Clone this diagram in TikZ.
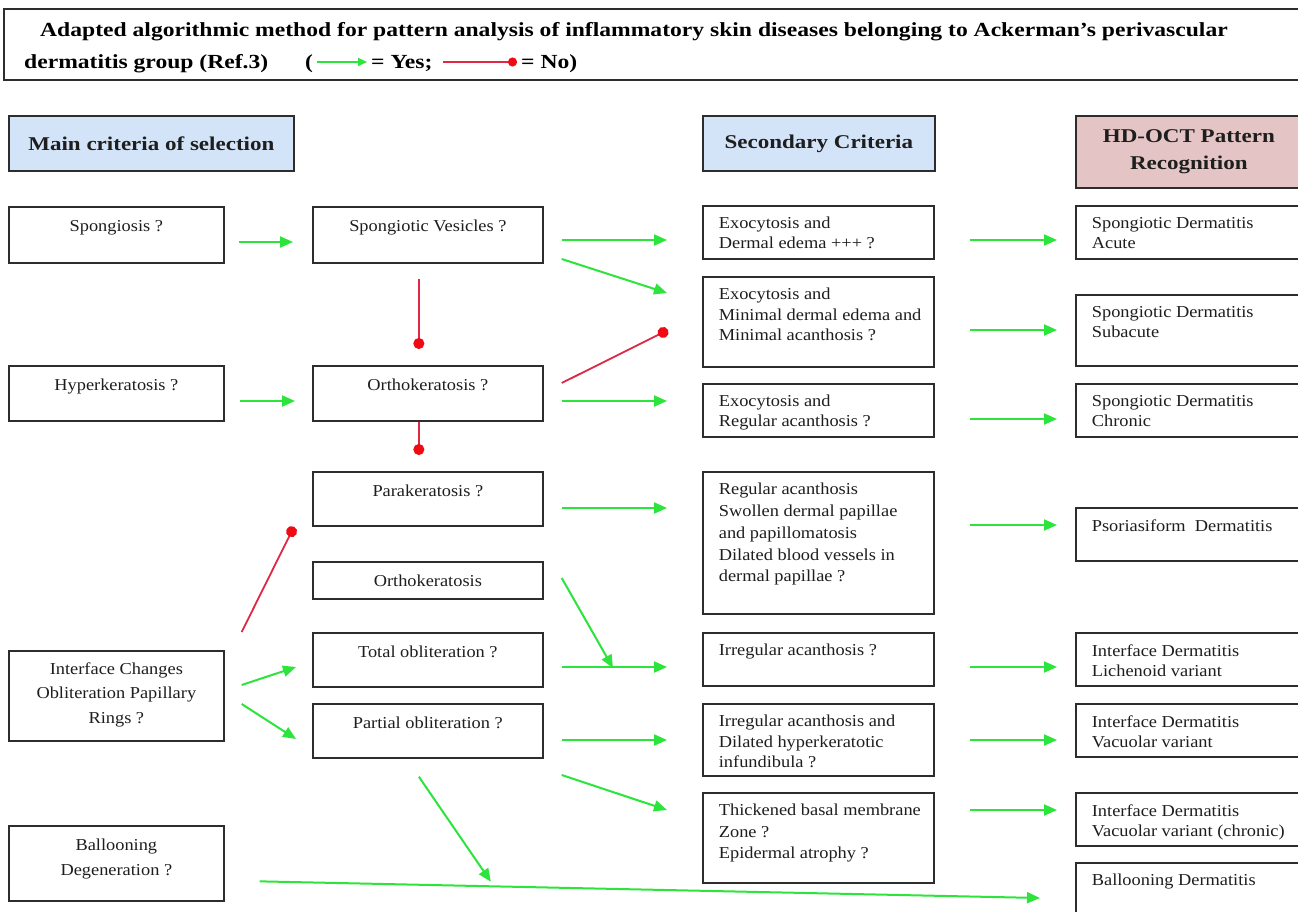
\documentclass[tikz,border=0pt]{standalone}
\usepackage{fontspec}
\setmainfont{Liberation Serif}[FakeStretch=1.18]
\newfontfamily\bxfont{Liberation Serif}[FakeStretch=1.1]
\usetikzlibrary{arrows.meta,calc}
\definecolor{yesg}{RGB}{45,228,60}
\definecolor{nor}{RGB}{222,40,70}
\definecolor{dotr}{RGB}{240,10,20}
\definecolor{hblue}{RGB}{212,228,248}
\definecolor{hpink}{RGB}{228,196,196}
\definecolor{bord}{RGB}{45,45,45}
\definecolor{txt}{RGB}{30,30,30}
\newcommand{\bxc}[7][20]{\node[bxs] (#2) at (#3,#4) {\parbox[t][#6pt][t]{#5pt}{\bxfont\fontsize{16.7}{#1}\selectfont\vspace*{13.5pt}\centering #7\par}};}
\newcommand{\bxl}[7][20]{\node[bxs] (#2) at (#3,#4) {\parbox[t][#6pt][t]{#5pt}{\bxfont\fontsize{16.7}{#1}\selectfont\vspace*{11.5pt}\raggedright\leftskip=16pt #7\par}};}
\begin{document}
\begin{tikzpicture}[x=1pt,y=-1pt,
  bxs/.style={draw=bord,line width=1.7pt,fill=white,inner sep=0pt,anchor=north west,text=txt},
  hdr/.style={draw=bord,line width=1.7pt,anchor=north west,inner sep=0pt,align=center,font=\fontsize{19.5}{27}\selectfont\bfseries,text=txt},
  yes/.style={draw=yesg,line width=2pt,-{Triangle[length=13pt,width=11pt]}},
  no/.style={draw=nor,line width=1.8pt,-{Circle[length=11pt,color=dotr,fill=dotr]}},
  ttl/.style={anchor=base west,inner sep=0pt,font=\fontsize{20}{26}\selectfont\bfseries,text=black}]
\clip (0,0) rectangle (1298,912);
\fill[white] (0,0) rectangle (1298,912);
% title
\draw[bord,line width=2pt] (4,9) rectangle (1320,80);
\node[ttl] (t1) at (40,37) {Adapted algorithmic method for pattern analysis of inflammatory skin diseases belonging to Ackerman’s perivascular};
\node[ttl] (t2) at (24,69) {dermatitis group (Ref.3)};
\node[ttl] (t3) at (305,69) {(};
\node[ttl] (t4) at (371,69) {= Yes;};
\node[ttl] (t5) at (521,69) {= No)};
\draw[yes,-{Triangle[length=9pt,width=8pt]}] ($(t3.base east)+(4,-7)$) -- ($(t4.base west)+(-4,-7)$);
\draw[no,-{Circle[length=9pt,color=dotr,fill=dotr]}] ($(t4.base east)+(10,-7)$) -- ($(t5.base west)+(-4,-7)$);
% headers
\node[hdr,fill=hblue,minimum width=285pt,minimum height=55pt] (h1) at (8,115) {Main criteria of selection};
\node[hdr,fill=hblue,minimum width=232pt,minimum height=55pt] (h2) at (702,115) {Secondary Criteria};
\node[hdr,fill=hpink,minimum width=226pt,minimum height=72pt] (h3) at (1075,115) {HD-OCT Pattern\\Recognition};
% column 1
\bxc{sp}{8}{206}{215}{56}{Spongiosis ?}
\bxc{hk}{8}{365}{215}{55}{Hyperkeratosis ?}
\bxc[24.5]{ic}{8}{650}{215}{90}{\vspace*{-2pt}Interface Changes\\Obliteration Papillary\\Rings ?}
\bxc[25]{bd}{8}{825}{215}{75}{Ballooning\\Degeneration ?}
% column 2
\bxc{sv}{312}{206}{230}{56}{Spongiotic Vesicles ?}
\bxc{ok}{312}{365}{230}{55}{Orthokeratosis ?}
\bxc{pk}{312}{471}{230}{54}{Parakeratosis ?}
\bxc{okb}{312}{561}{230}{37}{Orthokeratosis}
\bxc{to}{312}{632}{230}{54}{Total obliteration ?}
\bxc{po}{312}{703}{230}{54}{Partial obliteration ?}
% column 3
\bxl{ea}{702}{205}{231}{53}{Exocytosis and\\Dermal edema +++ ?}
\bxl[20.5]{eb}{702}{276}{231}{90}{Exocytosis and\\Minimal dermal edema and\\Minimal acanthosis ?}
\bxl{ec}{702}{383}{231}{53}{Exocytosis and\\Regular acanthosis ?}
\bxl[21.7]{ra}{702}{471}{231}{142}{Regular acanthosis\\Swollen dermal papillae\\and papillomatosis\\Dilated blood vessels in\\dermal papillae ?}
\bxl{ia}{702}{632}{231}{53}{Irregular acanthosis ?}
\bxl[20.5]{ib}{702}{703}{231}{72}{Irregular acanthosis and\\Dilated hyperkeratotic\\infundibula ?}
\bxl[21.5]{tb}{702}{792}{231}{90}{Thickened basal membrane\\Zone ?\\Epidermal atrophy ?}
% column 4
\bxl{ra1}{1075}{205}{240}{53}{Spongiotic Dermatitis\\Acute}
\bxl{ra2}{1075}{294}{240}{71}{Spongiotic Dermatitis\\Subacute}
\bxl{ra3}{1075}{383}{240}{53}{Spongiotic Dermatitis\\Chronic}
\bxl{ra4}{1075}{507}{240}{53}{Psoriasiform\ \ Dermatitis}
\bxl{ra5}{1075}{632}{240}{53}{Interface Dermatitis\\Lichenoid variant}
\bxl{ra6}{1075}{703}{240}{53}{Interface Dermatitis\\Vacuolar variant}
\bxl{ra7}{1075}{792}{240}{53}{Interface Dermatitis\\Vacuolar variant (chronic)}
\bxl{ra8}{1075}{862}{240}{60}{Ballooning Dermatitis}
% yes connectors
\draw[yes] ($(sp.north east)+(14,36)$) -- ($(sv.north west)+(-19,36)$);
\draw[yes] ($(sv.north east)+(18,34)$) -- ($(ea.north west)+(-35,35)$);
\draw[yes] ($(sv.north east)+(18,53)$) -- ($(eb.north west)+(-35,17)$);
\draw[yes] ($(hk.north east)+(15,36)$) -- ($(ok.north west)+(-17,36)$);
\draw[yes] ($(ok.north east)+(18,36)$) -- ($(ec.north west)+(-35,18)$);
\draw[yes] ($(pk.north east)+(18,37)$) -- ($(ra.north west)+(-35,37)$);
\draw[yes] ($(okb.north east)+(18,17)$) -- ($(ia.north west)+(-89,36)$);
\draw[yes] ($(to.north east)+(18,35)$) -- ($(ia.north west)+(-35,35)$);
\draw[yes] ($(ic.north east)+(17,35)$) -- ($(to.north west)+(-16,35)$);
\draw[yes] ($(ic.north east)+(17,54)$) -- ($(po.north west)+(-16,36)$);
\draw[yes] ($(po.north east)+(18,37)$) -- ($(ib.north west)+(-35,37)$);
\draw[yes] ($(po.north east)+(18,72)$) -- ($(tb.north west)+(-35,18)$);
\coordinate (poend) at ($(po.south)+(63,123)$);
\draw[yes] ($(po.south)+(-9,18)$) -- (poend);
\draw[yes] ($(bd.east)+(35,18)$) -- ($(ra8.north west)+(-35,36)$);
\draw[yes] ($(ea.north east)+(35,35)$) -- ($(ra1.north west)+(-18,35)$);
\draw[yes] ($(eb.north east)+(35,54)$) -- ($(ra2.north west)+(-18,36)$);
\draw[yes] ($(ec.north east)+(35,36)$) -- ($(ra3.north west)+(-18,36)$);
\draw[yes] ($(ra.north east)+(35,54)$) -- ($(ra4.north west)+(-18,18)$);
\draw[yes] ($(ia.north east)+(35,35)$) -- ($(ra5.north west)+(-18,35)$);
\draw[yes] ($(ib.north east)+(35,37)$) -- ($(ra6.north west)+(-18,37)$);
\draw[yes] ($(tb.north east)+(35,18)$) -- ($(ra7.north west)+(-18,18)$);
% no connectors
\draw[no] ($(sv.south)+(-9,15)$) -- ($(ok.north)+(-9,-16)$);
\draw[no] ($(ok.north east)+(18,18)$) -- ($(eb.north west)+(-34,54)$);
\draw[no] ($(ok.south)+(-9,0)$) -- ($(pk.north)+(-9,-16)$);
\draw[no] ($(ic.north east)+(17,-18)$) -- ($(pk.south west)+(-18,0)$);
\end{tikzpicture}
\end{document}
